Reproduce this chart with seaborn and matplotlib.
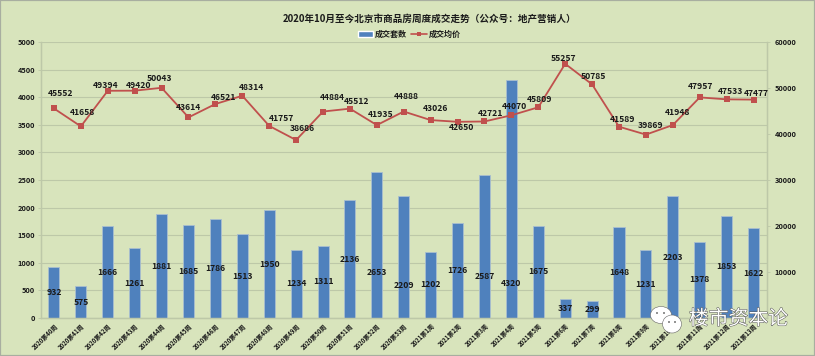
import numpy as np
import pandas as pd
import matplotlib
matplotlib.use('Agg')
import matplotlib.pyplot as plt
import matplotlib.patheffects as pe
from matplotlib.lines import Line2D
from matplotlib.patches import Ellipse, Patch, Rectangle
import seaborn as sns

# Data
weeks = ['2020第%d周' % w for w in range(40, 54)] + ['2021第%d周' % w for w in range(1, 14)]
deals = [932, 575, 1666, 1261, 1881, 1685, 1786, 1513, 1950, 1234, 1311, 2136, 2653, 2209,
         1202, 1726, 2587, 4320, 1675, 337, 299, 1648, 1231, 2203, 1378, 1853, 1622]
prices = [45552, 41658, 49394, 49420, 50043, 43614, 46521, 48314, 41757, 38686, 44884, 45512,
          41935, 44888, 43026, 42650, 42721, 44070, 45809, 55257, 50785, 41589, 39869, 41948,
          47957, 47533, 47477]

# Label offsets of the price series, in pixels (dx, dy)
price_offsets = [(7, 15), (2, 14), (-2, 5), (4, 5), (-2, 9), (0, 10), (8, 7), (9, 8), (12, 7),
                 (6, 12), (9, 14), (7, 7), (4, 11), (3, 15), (5, 12), (4, -6), (6, 8), (3, 9),
                 (1, 8), (-2, 5), (1, 8), (4, 7), (5, 9), (5, 13), (1, 11), (4, 8), (3, 6)]
# A few bar labels sit away from the bar centre (height in axis units)
moved_labels = {12: 833, 13: 580, 16: 760, 17: 634}

BG = '#D8E4BC'
BLUE = '#4F81BD'
RED = '#C0504D'
GRID = '#BDC8A8'
TXT = '#1A1A1A'
W, H = 815, 356

sns.set_theme(style='white')
plt.rcParams['font.family'] = ['Noto Sans CJK SC', 'DejaVu Sans']
plt.rcParams['axes.unicode_minus'] = False

df = pd.DataFrame({'week': weeks, 'deals': deals, 'price': prices})

fig = plt.figure(figsize=(W / 100, H / 100), dpi=100, facecolor=BG)
ax = fig.add_axes([40.5 / W, 1 - 318 / H, (767 - 40.5) / W, (318 - 42) / H])
ax.set_facecolor(BG)

sns.barplot(data=df, x='week', y='deals', color=BLUE, width=0.41, saturation=1,
            edgecolor='#A9BFD0', linewidth=0.6, ax=ax, zorder=2)
ax.set_xlim(-0.5, len(weeks) - 0.5)
ax.set_ylim(0, 5000)
ax.set_yticks(range(0, 5001, 500))
ax.set_xlabel('')
ax.set_ylabel('')
ax.grid(axis='y', color=GRID, linewidth=0.8)
ax.set_axisbelow(True)
ax.tick_params(axis='y', labelsize=5.3, length=2, width=0.6, color=GRID, pad=2, labelcolor=TXT)
ax.tick_params(axis='x', labelsize=4.3, length=2, width=0.6, color=GRID, pad=1, labelcolor=TXT)
ax.set_xticks(np.arange(len(weeks)))
ax.set_xticklabels(weeks, rotation=45, ha='right', rotation_mode='anchor', fontweight='bold')
for t in ax.get_yticklabels():
    t.set_fontweight('bold')

ax2 = ax.twinx()
sns.lineplot(x=np.arange(len(weeks)), y=prices, color=RED, linewidth=1.3, marker='s',
             markersize=3.8, markeredgewidth=0, ax=ax2, zorder=3)
ax2.set_ylim(0, 60000)
ax2.set_yticks(range(10000, 60001, 10000))
ax2.set_ylabel('')
ax2.grid(False)
ax2.tick_params(axis='y', labelsize=5.3, length=2, width=0.6, color=GRID, pad=3.5, labelcolor=TXT)
for t in ax2.get_yticklabels():
    t.set_fontweight('bold')

for a in (ax, ax2):
    a.spines['top'].set_visible(False)
    for s in ('left', 'right', 'bottom'):
        a.spines[s].set_color(GRID)
        a.spines[s].set_linewidth(0.9)

# Data labels
for i, v in enumerate(deals):
    y = moved_labels.get(i, v / 2)
    ax2.text(i, y * 12, str(v), ha='center', va='center', fontsize=6.2, fontweight='bold',
             color=TXT, zorder=5)
for i, v in enumerate(prices):
    dx, dy = price_offsets[i]
    ax2.annotate(str(v), (i, v), xytext=(dx * 0.72, dy * 0.72), textcoords='offset points',
                 ha='center', va='center', fontsize=6.2, fontweight='bold', color=TXT, zorder=5)

fig.text(430 / W, 1 - 20 / H, '2020年10月至今北京市商品房周度成交走势（公众号：地产营销人）',
         ha='center', va='center', fontsize=6.9, fontweight='bold', color=TXT)

handles = [Patch(facecolor=BLUE, label='成交套数'),
           Line2D([0], [0], color=RED, marker='s', markersize=3.2, markeredgewidth=0, linewidth=1.2,
                  label='成交均价')]
fig.legend(handles=handles, loc='center', bbox_to_anchor=(409 / W, 1 - 34.5 / H), ncol=2, frameon=False,
           prop={'size': 5.8, 'weight': 'bold'}, handlelength=1.9, handleheight=0.7,
           handletextpad=0.2, columnspacing=0.6, labelcolor=TXT)

# Picture border
fig.add_artist(Rectangle((0, 0), 1, 1, transform=fig.transFigure, fill=False, edgecolor='#A8AEA0', linewidth=1.6))

# Watermark, icon and name
for cx, cy, ew, eh in [(661, 315, 21, 17), (672, 324, 19, 18)]:
    fig.add_artist(Ellipse((cx / W, 1 - cy / H), ew / W, eh / H, transform=fig.transFigure,
                           facecolor='white', edgecolor='#666666', linewidth=0.4, zorder=8))
for cx, cy in [(657, 313), (664, 313), (669, 322), (675, 322)]:
    fig.add_artist(Ellipse((cx / W, 1 - cy / H), 2 / W, 2 / H, transform=fig.transFigure,
                           facecolor='#777777', edgecolor='none', zorder=9))
fig.text(738.5 / W, 1 - 319 / H, '楼市资本论', ha='center', va='center', fontsize=14.3, color='white',
         zorder=9, path_effects=[pe.withStroke(linewidth=0.7, foreground='#555555')])

fig.savefig('out.png', dpi=100, facecolor=BG)
plt.close(fig)
